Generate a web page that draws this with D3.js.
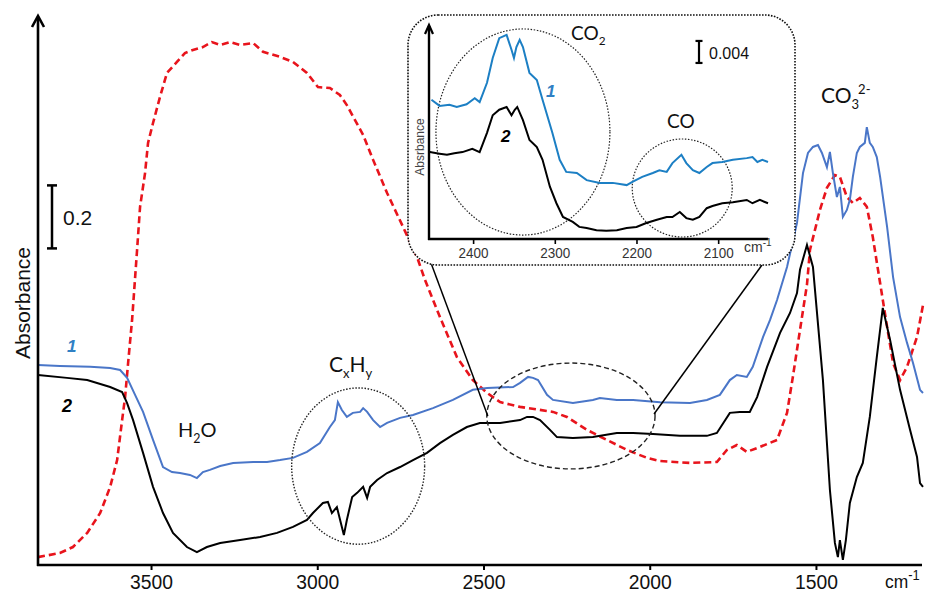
<!DOCTYPE html>
<html>
<head>
<meta charset="utf-8">
<script src="https://cdn.jsdelivr.net/npm/d3@7"></script>
<style>
  body { margin: 0; background: #fff; }
  svg { display: block; }
</style>
</head>
<body>
<svg id="chart" width="928" height="593"></svg>
<script>
// ---- Spectra: [wavenumber (cm-1), absorbance] ----
const spectrum1 = [
  [3840,0.635],[3774,0.632],[3683,0.629],[3623,0.625],[3593,0.619],[3572,0.594],[3548,0.540],[3524,0.486],
  [3494,0.397],[3464,0.311],[3437,0.295],[3413,0.292],[3383,0.286],[3362,0.276],[3344,0.295],[3323,0.302],
  [3292,0.314],[3253,0.324],[3193,0.327],[3151,0.327],[3112,0.333],[3073,0.340],[3031,0.359],[2992,0.387],
  [2962,0.438],[2947,0.460],[2938,0.517],[2926,0.492],[2911,0.470],[2893,0.483],[2871,0.486],[2862,0.498],
  [2850,0.486],[2832,0.460],[2811,0.438],[2790,0.451],[2751,0.467],[2712,0.476],[2652,0.498],[2592,0.524],
  [2532,0.556],[2489,0.562],[2411,0.565],[2390,0.578],[2366,0.597],[2351,0.594],[2336,0.587],[2309,0.540],
  [2291,0.524],[2231,0.514],[2171,0.524],[2150,0.530],[2099,0.524],[2050,0.524],[1969,0.517],[1879,0.514],
  [1828,0.524],[1789,0.540],[1759,0.587],[1738,0.603],[1708,0.597],[1690,0.629],[1659,0.724],[1638,0.778],
  [1617,0.841],[1587,0.946],[1557,1.086],[1539,1.244],[1524,1.308],[1509,1.327],[1494,1.333],[1482,1.308],
  [1467,1.263],[1458,1.311],[1449,1.244],[1437,1.168],[1428,1.200],[1419,1.105],[1407,1.127],[1398,1.159],
  [1389,1.232],[1377,1.308],[1368,1.327],[1353,1.340],[1347,1.390],[1338,1.340],[1329,1.327],[1317,1.295],
  [1307,1.232],[1286,1.073],[1268,0.914],[1247,0.787],[1226,0.705],[1208,0.641],[1187,0.556],[1178,0.546]
];

const spectrum2 = [
  [3840,0.603],[3753,0.594],[3692,0.587],[3623,0.565],[3587,0.549],[3572,0.514],[3554,0.460],[3524,0.356],
  [3494,0.248],[3464,0.165],[3434,0.102],[3392,0.057],[3362,0.041],[3332,0.057],[3292,0.070],[3232,0.079],
  [3172,0.089],[3121,0.102],[3073,0.121],[3031,0.143],[3013,0.165],[2983,0.197],[2968,0.200],[2956,0.165],
  [2941,0.184],[2926,0.121],[2920,0.095],[2911,0.143],[2895,0.216],[2880,0.229],[2862,0.248],[2850,0.213],
  [2841,0.248],[2820,0.270],[2790,0.292],[2751,0.311],[2712,0.333],[2670,0.356],[2631,0.387],[2592,0.413],
  [2550,0.438],[2511,0.451],[2450,0.451],[2390,0.460],[2369,0.470],[2351,0.470],[2330,0.460],[2300,0.429],
  [2279,0.406],[2231,0.403],[2171,0.406],[2099,0.419],[2050,0.419],[1990,0.416],[1909,0.410],[1828,0.410],
  [1798,0.419],[1759,0.483],[1729,0.486],[1699,0.486],[1677,0.533],[1647,0.629],[1608,0.737],[1578,0.800],
  [1557,0.863],[1548,0.937],[1527,1.016],[1509,0.946],[1479,0.587],[1458,0.238],[1443,0.070],[1434,0.025],
  [1428,0.079],[1419,0.016],[1410,0.079],[1398,0.197],[1377,0.279],[1359,0.324],[1338,0.470],[1317,0.660],
  [1299,0.816],[1277,0.714],[1247,0.556],[1217,0.429],[1196,0.343],[1187,0.260],[1178,0.248]
];

const spectrumRef = [
  [3840,0.025],[3774,0.038],[3735,0.057],[3692,0.102],[3653,0.165],[3623,0.248],[3602,0.333],[3587,0.460],
  [3578,0.533],[3569,0.641],[3557,0.778],[3542,1.000],[3533,1.137],[3518,1.244],[3509,1.340],[3494,1.403],
  [3473,1.486],[3452,1.562],[3422,1.597],[3398,1.625],[3374,1.635],[3344,1.644],[3317,1.660],[3292,1.651],
  [3262,1.660],[3232,1.651],[3193,1.657],[3163,1.629],[3112,1.613],[3073,1.597],[3031,1.562],[2998,1.517],
  [2962,1.514],[2932,1.492],[2911,1.460],[2862,1.365],[2832,1.286],[2790,1.181],[2742,1.073],[2700,0.978],
  [2676,0.905],[2631,0.787],[2580,0.660],[2532,0.587],[2489,0.546],[2450,0.517],[2390,0.502],[2291,0.486],
  [2249,0.470],[2189,0.429],[2129,0.397],[2068,0.365],[2008,0.340],[1969,0.330],[1879,0.324],[1798,0.327],
  [1768,0.365],[1738,0.381],[1708,0.359],[1668,0.375],[1617,0.397],[1587,0.483],[1569,0.600],[1548,0.746],
  [1527,0.890],[1518,1.000],[1488,1.127],[1467,1.197],[1443,1.238],[1428,1.232],[1407,1.168],[1389,1.149],
  [1368,1.165],[1347,1.137],[1329,1.041],[1307,0.895],[1286,0.756],[1268,0.641],[1247,0.587],[1226,0.629],
  [1196,0.724],[1178,0.825]
];

// Zoomed CO2 / CO region (2450-2040 cm-1)
const inset1 = [
  [2451,0.0253],[2441,0.0242],[2429,0.0244],[2420,0.0240],[2408,0.0245],[2398,0.0256],[2392,0.0249],[2383,0.0284],
  [2376,0.0329],[2368,0.0365],[2359,0.0371],[2353,0.0344],[2350,0.0329],[2347,0.0349],[2343,0.0362],[2339,0.0349],
  [2331,0.0302],[2322,0.0289],[2315,0.0253],[2303,0.0193],[2294,0.0144],[2286,0.0122],[2273,0.0120],[2261,0.0107],
  [2245,0.0102],[2229,0.0102],[2212,0.0098],[2205,0.0104],[2193,0.0113],[2180,0.0120],[2172,0.0125],[2163,0.0122],
  [2156,0.0138],[2145,0.0153],[2139,0.0138],[2131,0.0125],[2123,0.0120],[2114,0.0131],[2107,0.0138],[2095,0.0140],
  [2082,0.0144],[2065,0.0147],[2058,0.0149],[2052,0.0140],[2046,0.0144],[2039,0.0140]
];
const inset2 = [
  [2453,0.0158],[2441,0.0155],[2432,0.0153],[2423,0.0156],[2413,0.0158],[2401,0.0164],[2392,0.0158],[2383,0.0193],
  [2376,0.0225],[2368,0.0235],[2359,0.0240],[2353,0.0225],[2349,0.0235],[2346,0.0240],[2339,0.0216],[2331,0.0180],
  [2322,0.0167],[2315,0.0144],[2306,0.0095],[2298,0.0065],[2290,0.0040],[2278,0.0031],[2270,0.0022],[2261,0.0020],
  [2249,0.0016],[2237,0.0015],[2224,0.0016],[2212,0.0020],[2200,0.0022],[2188,0.0029],[2175,0.0035],[2163,0.0040],
  [2156,0.0040],[2147,0.0049],[2139,0.0038],[2131,0.0035],[2123,0.0040],[2114,0.0056],[2107,0.0060],[2095,0.0065],
  [2082,0.0067],[2065,0.0071],[2058,0.0065],[2049,0.0071],[2039,0.0065]
];

const mainTicks = [3500, 3000, 2500, 2000, 1500];
const insetTicks = [2400, 2300, 2200, 2100];

// Band regions marked by ellipses: centre (cm-1, abs) and half extents
const mainBands = [
  { cx: 2877, cy: 0.314, hw: 200, hh: 0.248, dash: "1.5,1.6" },   // CxHy
  { cx: 2237, cy: 0.473, hw: 253, hh: 0.168, dash: "5,3" }        // CO2 / CO region
];
const insetBands = [
  { cx: 2339, cy: 0.01945, hw: 106.5, hh: 0.01873 },   // CO2
  { cx: 2144, cy: 0.00927, hw: 61.2, hh: 0.00891 }     // CO
];

// ---- Scales ----
const svg = d3.select("#chart");
const x = d3.scaleLinear().domain([3840, 1178]).range([38, 923]);
const y = d3.scaleLinear().domain([0, 1.73]).range([565, 20]);

const xi = d3.scaleLinear().domain([2454, 2039]).range([429, 768]);
const yi = d3.scaleLinear().domain([0, 0.0389]).range([239, 25]);

const BLUE = "#4a76c8", BLUE_I = "#1c7fc4", RED = "#e8141c";
const SANS = "'Liberation Sans', Arial, sans-serif";
const LABEL = "Lato, 'Open Sans', sans-serif";

const line = d3.line().x(d => x(d[0])).y(d => y(d[1]));
const lineI = d3.line().x(d => xi(d[0])).y(d => yi(d[1]));

// ---- Main spectra ----
svg.append("path").datum(spectrumRef).attr("d", line)
  .attr("fill", "none").attr("stroke", RED).attr("stroke-width", 2.6)
  .attr("stroke-dasharray", "7,4");
svg.append("path").datum(spectrum2).attr("d", line)
  .attr("fill", "none").attr("stroke", "#000").attr("stroke-width", 2);
svg.append("path").datum(spectrum1).attr("d", line)
  .attr("fill", "none").attr("stroke", BLUE).attr("stroke-width", 2);

// ---- Main axes ----
const xAxis = d3.axisBottom(x).tickValues(mainTicks).tickSize(5).tickPadding(4).tickFormat(d3.format("d"));
const gx = svg.append("g").attr("transform", "translate(0,565)").call(xAxis);
gx.select(".domain").remove();
gx.selectAll(".tick line").attr("stroke", "#000").attr("stroke-width", 2);
gx.selectAll(".tick text").attr("font-family", SANS).attr("font-size", 21).attr("fill", "#111")
  .attr("transform", "scale(0.92,1)");

svg.append("line").attr("x1", 37).attr("x2", 922).attr("y1", 565).attr("y2", 565)
  .attr("stroke", "#000").attr("stroke-width", 2.6);
svg.append("line").attr("x1", 38).attr("x2", 38).attr("y1", 566).attr("y2", 17)
  .attr("stroke", "#000").attr("stroke-width", 2.6);
svg.append("path").attr("d", "M32,27 L38,16 L44,27")
  .attr("fill", "none").attr("stroke", "#000").attr("stroke-width", 2.6);

// cm-1 unit
const unit = svg.append("text").attr("x", 885).attr("y", 588)
  .attr("font-family", SANS).attr("font-size", 19).attr("fill", "#111")
  .attr("transform", "translate(885,0) scale(0.92,1) translate(-885,0)");
unit.append("tspan").text("cm");
unit.append("tspan").attr("font-size", 14).attr("dy", -8).text("-1");

// Absorbance label
svg.append("text").attr("transform", "translate(30,303) rotate(-90)")
  .attr("text-anchor", "middle").attr("font-family", SANS).attr("font-size", 21)
  .attr("fill", "#111").text("Absorbance");

// 0.2 absorbance scale bar
const barTop = y(1.205), barBot = y(1.005);
svg.append("line").attr("x1", 52).attr("x2", 52).attr("y1", barTop).attr("y2", barBot)
  .attr("stroke", "#000").attr("stroke-width", 2.5);
[barTop, barBot].forEach(v => svg.append("line").attr("x1", 47).attr("x2", 57)
  .attr("y1", v).attr("y2", v).attr("stroke", "#000").attr("stroke-width", 2.5));
svg.append("text").attr("x", 63).attr("y", 225).attr("font-family", SANS)
  .attr("font-size", 21).attr("fill", "#111").text("0.2");

// ---- Text helpers ----
function rich(parent, px, py, parts, size, opts = {}) {
  const t = parent.append("text").attr("x", px).attr("y", py)
    .attr("font-family", opts.family || LABEL).attr("font-size", size)
    .attr("fill", opts.fill || "#111");
  let shift = 0;
  parts.forEach(p => {
    const target = p.sub ? size * 0.28 : p.sup ? -size * 0.42 : 0;
    const ts = t.append("tspan").text(p.t).attr("dy", target - shift);
    if (p.sub || p.sup) ts.attr("font-size", size * 0.62);
    if (p.dx) ts.attr("dx", p.dx);
    shift = target;
  });
  return t;
}

// ---- Band ellipses on the main plot ----
function ellipse(parent, b, sx, sy, dash, width) {
  const rx = Math.abs(sx(b.cx - b.hw) - sx(b.cx));
  const ry = Math.abs(sy(b.cy + b.hh) - sy(b.cy));
  parent.append("ellipse").attr("cx", sx(b.cx)).attr("cy", sy(b.cy))
    .attr("rx", rx).attr("ry", ry).attr("fill", "none")
    .attr("stroke", "#222").attr("stroke-width", width).attr("stroke-dasharray", dash);
  return { cx: sx(b.cx), cy: sy(b.cy), rx, ry };
}
ellipse(svg, mainBands[0], x, y, mainBands[0].dash, 1.4);
const zoomE = ellipse(svg, mainBands[1], x, y, mainBands[1].dash, 1.4);

// ---- Inset panel ----
const box = { x: 408, y: 15, w: 387, h: 250, r: 30 };
svg.append("line").attr("x1", box.x + 23).attr("y1", box.y + box.h - 2)
  .attr("x2", zoomE.cx - zoomE.rx + 1).attr("y2", zoomE.cy)
  .attr("stroke", "#000").attr("stroke-width", 1.5);
svg.append("line").attr("x1", box.x + box.w - 33).attr("y1", box.y + box.h)
  .attr("x2", zoomE.cx + zoomE.rx - 1).attr("y2", zoomE.cy - 2)
  .attr("stroke", "#000").attr("stroke-width", 1.5);
svg.append("rect").attr("x", box.x).attr("y", box.y).attr("width", box.w).attr("height", box.h)
  .attr("rx", box.r).attr("ry", box.r).attr("fill", "#fff")
  .attr("stroke", "#111").attr("stroke-width", 1.6).attr("stroke-dasharray", "1.6,1.4");

const inset = svg.append("g");
insetBands.forEach(b => ellipse(inset, b, xi, yi, "1.5,1.6", 1.2));

inset.append("path").datum(inset2).attr("d", lineI)
  .attr("fill", "none").attr("stroke", "#000").attr("stroke-width", 2);
inset.append("path").datum(inset1).attr("d", lineI)
  .attr("fill", "none").attr("stroke", BLUE_I).attr("stroke-width", 2);

const xAxisI = d3.axisBottom(xi).tickValues(insetTicks).tickSize(5).tickPadding(3).tickFormat(d3.format("d"));
const gxi = inset.append("g").attr("transform", "translate(0,239)").call(xAxisI);
gxi.select(".domain").remove();
gxi.selectAll(".tick line").attr("stroke", "#000").attr("stroke-width", 1.6);
gxi.selectAll(".tick text").attr("font-family", SANS).attr("font-size", 15).attr("fill", "#333")
  .attr("transform", "scale(0.9,1)");
inset.append("line").attr("x1", 428).attr("x2", 768).attr("y1", 239).attr("y2", 239)
  .attr("stroke", "#000").attr("stroke-width", 2.4);
inset.append("line").attr("x1", 429).attr("x2", 429).attr("y1", 240).attr("y2", 26)
  .attr("stroke", "#000").attr("stroke-width", 2.4);
inset.append("path").attr("d", "M425,34 L429,25 L433,34")
  .attr("fill", "none").attr("stroke", "#000").attr("stroke-width", 2.2);

const unitI = inset.append("text").attr("x", 744).attr("y", 252)
  .attr("font-family", SANS).attr("font-size", 14).attr("fill", "#333");
unitI.append("tspan").text("cm");
unitI.append("tspan").attr("font-size", 10).attr("dy", -6).text("-1");

inset.append("text").attr("transform", "translate(424,147) rotate(-90)")
  .attr("text-anchor", "middle").attr("font-family", SANS).attr("font-size", 12)
  .attr("fill", "#444").text("Absrbance");

// 0.004 scale bar
const ibTop = yi(0.036), ibBot = yi(0.032);
inset.append("line").attr("x1", 699).attr("x2", 699).attr("y1", ibTop).attr("y2", ibBot)
  .attr("stroke", "#000").attr("stroke-width", 2.2);
[ibTop, ibBot].forEach(v => inset.append("line").attr("x1", 695.5).attr("x2", 702.5)
  .attr("y1", v).attr("y2", v).attr("stroke", "#000").attr("stroke-width", 2.2));
inset.append("text").attr("x", 709).attr("y", 59).attr("font-family", SANS)
  .attr("font-size", 16).attr("fill", "#111").text("0.004");

// ---- Annotations ----
rich(svg, 178, 437, [{ t: "H" }, { t: "2", sub: true }, { t: "O" }], 20);
rich(svg, 329, 372, [{ t: "C" }, { t: "x", sub: true }, { t: "H" }, { t: "y", sub: true }], 21);
rich(svg, 821, 103, [{ t: "CO" }, { t: "3", sub: true }, { t: "2-", sup: true, dx: -1 }], 21);
rich(inset, 571, 40, [{ t: "CO" }, { t: "2", sub: true }], 19);
rich(inset, 667, 128, [{ t: "CO" }], 19);

function tag(parent, px, py, s, fill, size) {
  parent.append("text").attr("x", px).attr("y", py).attr("font-family", SANS)
    .attr("font-size", size).attr("font-style", "italic").attr("font-weight", "bold")
    .attr("fill", fill).text(s);
}
tag(svg, 67, 352, "1", "#2f80c4", 17);
tag(svg, 62, 412, "2", "#000", 18);
tag(inset, 546, 97, "1", "#2f80c4", 17);
tag(inset, 501, 142, "2", "#000", 17);
</script>
</body>
</html>
